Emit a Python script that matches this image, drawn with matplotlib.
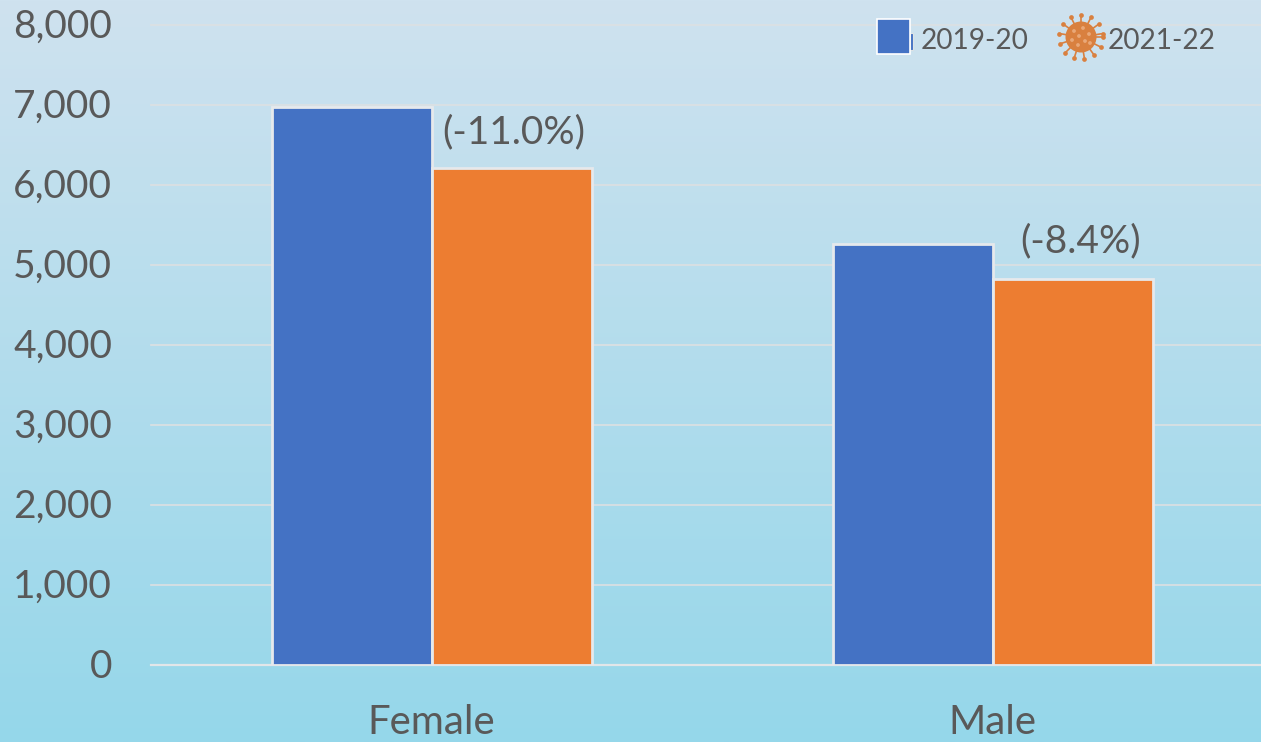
"""Female / male counts, 2019-20 against 2021-22, on a gradient background."""
import numpy as np
import matplotlib
matplotlib.use("Agg")
import matplotlib.pyplot as plt
from matplotlib.patches import Circle, Rectangle
from matplotlib.transforms import ScaledTranslation

categories = ["Female", "Male"]
values_2019 = [6975, 5262]
values_2021 = [6212, 4825]
series_names = ["2019-20", "2021-22"]
change_labels = ["(-11.0%)", "(-8.4%)"]
y_ticks = [0, 1000, 2000, 3000, 4000, 5000, 6000, 7000, 8000]

W, H = 1261, 742
TEXT = "#595959"
BLUE = "#4472C4"
ORANGE = "#ED7D31"
GRID = "#DCE0E2"

plt.rcParams["font.family"] = ["Lato", "DejaVu Sans"]

fig = plt.figure(figsize=(W / 100, H / 100), dpi=100)

# background gradient, top to bottom
bg = fig.add_axes([0, 0, 1, 1], zorder=0)
bg.axis("off")
grad = np.linspace(0, 1, 256)[:, None, None]
top = np.array([0xCF, 0xE2, 0xEF]) / 255
bottom = np.array([0x95, 0xD7, 0xEA]) / 255
bg.imshow(top + (bottom - top) * grad, aspect="auto", extent=[0, 1, 0, 1])

# plot area runs past the right edge of the picture, as in the reference
left, right = 151, 1273
y0, y8000 = 665, 25
ax = fig.add_axes(
    [left / W, 1 - y0 / H, (right - left) / W, (y0 - y8000) / H],
    zorder=1,
)
ax.patch.set_visible(False)
ax.set_xlim(-0.5, 1.5)
ax.set_ylim(0, 8000)

x = np.arange(len(categories))
bar_w = 160 / 561
ax.bar(x - bar_w / 2, values_2019, bar_w, color=BLUE, edgecolor="#E6E9EC", linewidth=2, zorder=3)
ax.bar(x + bar_w / 2, values_2021, bar_w, color=ORANGE, edgecolor="#E6E9EC", linewidth=2, zorder=3)

ax.set_axisbelow(True)
ax.yaxis.grid(True, color=GRID, linewidth=1.2, zorder=0)
ax.xaxis.grid(False)
for s in ["top", "right", "left"]:
    ax.spines[s].set_visible(False)
ax.spines["bottom"].set_color("#E2E6E9")
ax.spines["bottom"].set_linewidth(1.6)

ax.set_yticks(y_ticks)
ax.set_yticklabels([f"{v:,}" for v in y_ticks], fontsize=28, color=TEXT)
ax.set_xticks(x)
ax.set_xticklabels(categories, fontsize=29, color=TEXT)
ax.tick_params(axis="both", length=0)
ax.tick_params(axis="y", pad=28)
ax.tick_params(axis="x", pad=28)

# the 8,000 gridline lies on the axes edge, keep it from being clipped
for line in ax.get_ygridlines():
    line.set_clip_on(False)

# y labels sit a touch higher than the default baseline
up = ScaledTranslation(0, 2 / 100, fig.dpi_scale_trans)
for t in ax.get_yticklabels():
    t.set_transform(t.get_transform() + up)

# change labels sit just above the orange bars
label_offsets = [(2, 36), (8, 38)]
for i, lab in enumerate(change_labels):
    ax.annotate(
        lab, (x[i] + bar_w / 2, values_2021[i]), xytext=label_offsets[i],
        textcoords="offset pixels", ha="center", va="center", fontsize=28, color=TEXT,
    )

# legend drawn in pixel coordinates, the virus marker has no library equivalent
leg = fig.add_axes([0, 0, 1, 1], zorder=2)
leg.axis("off")
leg.set_xlim(0, W)
leg.set_ylim(H, 0)
leg.add_patch(Rectangle((910, 33), 3, 17, facecolor=BLUE, edgecolor="#DDE3E6", linewidth=0.8))
leg.add_patch(Rectangle((877, 19), 33, 35, facecolor=BLUE, edgecolor="white", linewidth=1.2))
leg.text(921, 41, series_names[0], fontsize=20.2, color=TEXT, va="center", ha="left")
leg.text(1108, 41, series_names[1], fontsize=20.2, color=TEXT, va="center", ha="left")

cx, cy = 1081, 37
virus = "#D9803F"
angles = np.deg2rad(np.arange(0, 360, 27))
for a in angles:
    x1, y1 = cx + 22 * np.cos(a), cy + 22 * np.sin(a)
    leg.plot([cx + 14 * np.cos(a), x1], [cy + 14 * np.sin(a), y1], color=virus, lw=1.2)
    leg.plot([x1], [y1], "o", color=virus, ms=3.4, mew=0)
leg.add_patch(Circle((cx, cy), 15.5, facecolor=virus, edgecolor="none"))
spots = [(-7, -6), (2, -9), (8, -3), (-2, -1), (-9, 3), (4, 4), (-3, 8), (9, 6)]
for dx, dy in spots:
    leg.add_patch(Circle((cx + dx, cy + dy), 1.9, facecolor="#E9A878", edgecolor="none"))

fig.savefig("out.png", dpi=100)
